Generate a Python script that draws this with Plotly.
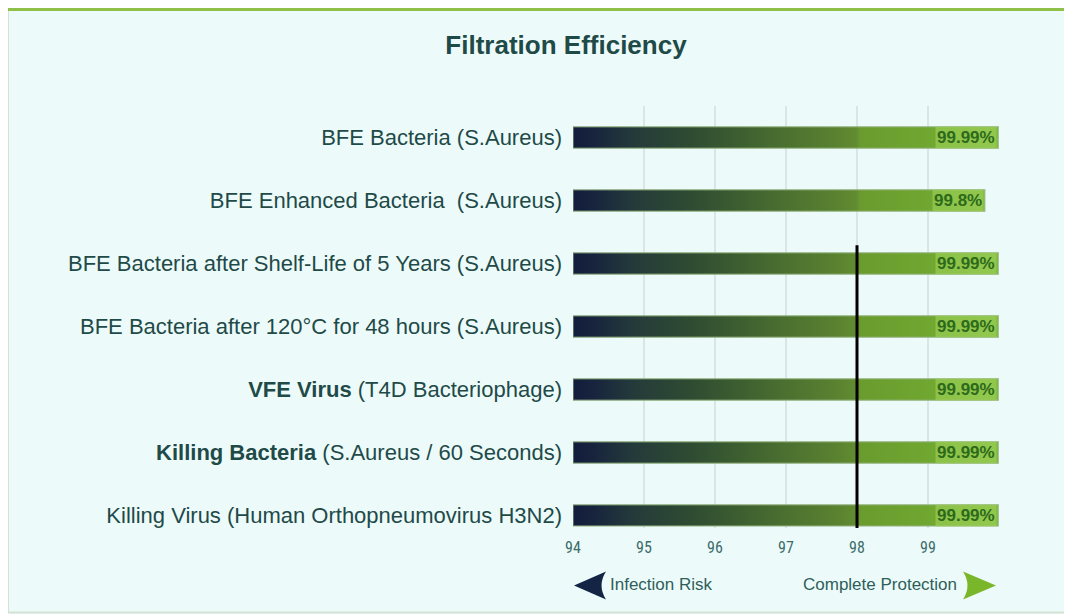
import plotly.graph_objects as go

# ---- data ----
categories = [
    "BFE Bacteria (S.Aureus)",
    "BFE Enhanced Bacteria  (S.Aureus)",
    "BFE Bacteria after Shelf-Life of 5 Years (S.Aureus)",
    "BFE Bacteria after 120°C for 48 hours (S.Aureus)",
    "<b>VFE Virus</b> (T4D Bacteriophage)",
    "<b>Killing Bacteria</b> (S.Aureus / 60 Seconds)",
    "Killing Virus (Human Orthopneumovirus H3N2)",
]
values = [99.99, 99.8, 99.99, 99.99, 99.99, 99.99, 99.99]
value_labels = ["99.99%", "99.8%", "99.99%", "99.99%", "99.99%", "99.99%", "99.99%"]
x_ticks = [94, 95, 96, 97, 98, 99]
x_min, x_max = 94, 100
threshold = 98

# figure is placed at (8, 8) inside the 1072x614 window
OFF = 8
W, H = 1064, 606
ML = 573 - OFF
MR = W - (999 - OFF)
MT = 105.5 - OFF
MB = H - (527.6 - OFF)
TEXT = "#1f4a48"
BG = "#ecfbfa"
half = 0.17
n = len(categories)


def wx(px):
    return (px - OFF - ML) / (W - ML - MR)


def wy(py):
    return (H - MB - (py - OFF)) / (H - MT - MB)


fig = go.Figure()

scale = [[0.0, "#121c3c"], [0.05, "#18243e"], [0.14, "#243a3a"], [0.28, "#2f4c32"],
         [0.40, "#3e6030"], [0.50, "#4b7030"], [0.62, "#5a8230"], [0.665, "#628c30"],
         [0.675, "#699b2e"], [0.85, "#70a830"], [1.0, "#7cba3a"]]

for i, (v, lab) in enumerate(zip(values, value_labels)):
    fig.add_trace(go.Scatter(
        x=[x_min, v, v, x_min, x_min],
        y=[i - half, i - half, i + half, i + half, i - half],
        mode="lines", fill="toself",
        fillgradient=dict(type="horizontal", colorscale=scale, start=x_min, stop=x_max),
        line=dict(color="rgba(150,180,130,0.7)", width=1.5),
        hoverinfo="skip", showlegend=False,
    ))
    fig.add_annotation(
        x=v, y=i, xref="x", yref="y", text=f"<b>{lab}</b>", showarrow=False,
        xanchor="right", xshift=-1,
        font=dict(family="Liberation Sans", size=17, color="#2d6a1c"),
        bgcolor="rgba(160,210,90,0.6)", borderpad=1,
    )

# threshold line
fig.add_trace(go.Scatter(
    x=[threshold, threshold], y=[2 - 0.29, n - 1 + 0.27],
    mode="lines", line=dict(color="#000000", width=3),
    hoverinfo="skip", showlegend=False,
))

shapes = []
# card border
shapes.append(dict(type="rect", xref="paper", yref="paper",
                   x0=wx(8), x1=wx(1068), y0=wy(612), y1=wy(9),
                   line=dict(color="#d6e2d6", width=2), layer="below"))
shapes.append(dict(type="line", xref="paper", yref="paper",
                   x0=wx(8), x1=wx(1068), y0=wy(9), y1=wy(9),
                   line=dict(color="#8fc04a", width=3)))


def arrow_path(tip, back, notch, ytop, ymid, ybot):
    return (f"M {wx(tip)} {wy(ymid)} L {wx(back)} {wy(ytop)} "
            f"Q {wx(notch)} {wy(ymid)} {wx(back)} {wy(ybot)} Z")


shapes.append(dict(type="path", xref="paper", yref="paper",
                   path=arrow_path(574, 606, 597, 571, 585, 599),
                   fillcolor="#132445", line=dict(width=0)))
shapes.append(dict(type="path", xref="paper", yref="paper",
                   path=arrow_path(996, 963, 972, 571, 585, 599),
                   fillcolor="#7ab62a", line=dict(width=0)))

fig.add_annotation(x=wx(608), y=wy(584), xref="paper", yref="paper",
                   text="Infection Risk", showarrow=False, xanchor="left", yanchor="middle",
                   font=dict(family="Liberation Sans", size=17, color="#2f5e5a"))
fig.add_annotation(x=wx(959), y=wy(584), xref="paper", yref="paper",
                   text="Complete Protection", showarrow=False, xanchor="right", yanchor="middle",
                   font=dict(family="Liberation Sans", size=17, color="#2f5e5a"))

fig.update_layout(
    width=W, height=H,
    margin=dict(l=ML, r=MR, t=MT, b=MB),
    paper_bgcolor=BG, plot_bgcolor=BG,
    title=dict(text="<b>Filtration Efficiency</b>", x=(566 - OFF) / W, xanchor="center",
               y=1 - (45 - OFF) / H, yanchor="middle", xref="container", yref="container",
               font=dict(family="Liberation Sans", size=26, color=TEXT)),
    shapes=shapes,
    xaxis=dict(range=[x_min, x_max], tickvals=x_ticks, ticktext=[str(t) for t in x_ticks],
               showgrid=True, gridcolor="#dae6e6", gridwidth=2, zeroline=False,
               showline=False, ticks="", ticklabelstandoff=8,
               tickfont=dict(family="Roboto Condensed, Liberation Sans Narrow, Roboto", size=16, color="#3d6c6a")),
    yaxis=dict(range=[6.2, -0.5], tickvals=list(range(n)),
               ticktext=categories, showgrid=False, zeroline=False, showline=False,
               ticks="", ticklabelstandoff=10,
               tickfont=dict(family="Liberation Sans", size=22, color=TEXT)),
)

fig.write_html("out.html")
